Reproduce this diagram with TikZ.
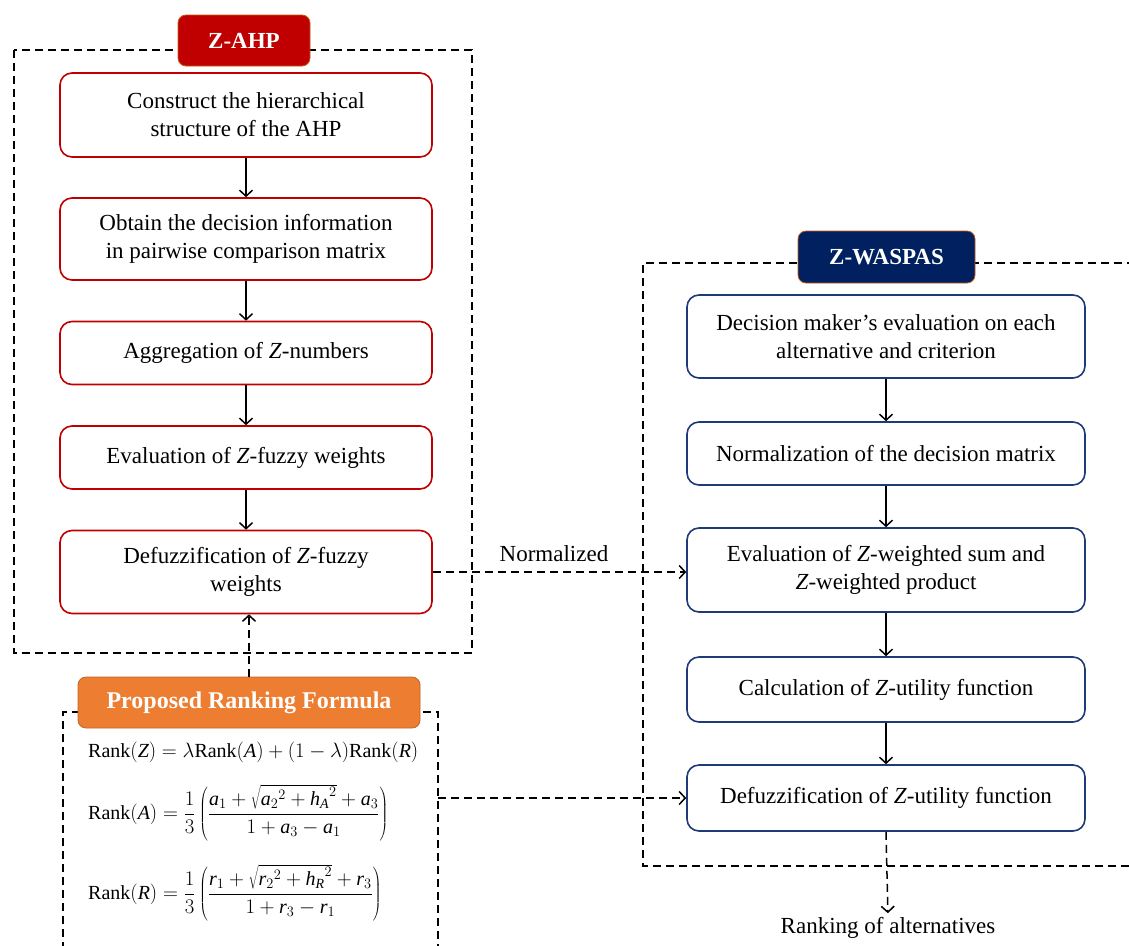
\documentclass[tikz,border=0pt]{standalone}
\usepackage{fontspec}
\setmainfont{Liberation Serif}
\usetikzlibrary{arrows.meta,calc}
\definecolor{zred}{HTML}{C00000}
\definecolor{znavy}{HTML}{002060}
\definecolor{zblue}{HTML}{1F3A78}
\definecolor{zorange}{HTML}{ED7D31}
\definecolor{zbrown}{HTML}{C55A11}
\newcommand{\mv}[1]{\mathit{#1}}
\begin{document}
\begin{tikzpicture}[x=1pt,y=-1pt,
  font=\fontsize{23}{28}\selectfont,
  redbox/.style={draw=zred, line width=1.6pt, rounded corners=12pt, fill=white, minimum width=372pt, align=center, inner sep=0pt},
  bluebox/.style={draw=zblue, line width=1.6pt, rounded corners=12pt, fill=white, minimum width=398pt, align=center, inner sep=0pt},
  tag/.style={rounded corners=8pt, font=\fontsize{23}{26}\selectfont\bfseries, text=white, inner sep=0pt, line width=0.8pt},
  frame/.style={dash pattern=on 8pt off 5pt, line width=1.6pt},
  flow/.style={line width=1.5pt, -{Straight Barb[length=6pt,width=13pt]}},
  dflow/.style={flow, dash pattern=on 8pt off 5pt},
  fml/.style={anchor=west, inner sep=0pt, font=\fontsize{20}{24}\selectfont},
]
\useasboundingbox (0,0) rectangle (1129,945);

% dashed frames
\draw[frame] (14,50) rectangle (472,653);
\draw[frame] (1135,263) -- (643,263) -- (643,866) -- (1135,866);
\draw[frame] (63,950) -- (63,712) -- (438,712) -- (438,950);

% Z-AHP column
\node[tag, fill=zred, draw=zbrown, minimum width=132pt, minimum height=51pt] (ahp) at (244,40.5) {Z-AHP};
\node[redbox, minimum height=84pt] (a1) at (246,115) {Construct the hierarchical\\structure of the AHP};
\node[redbox, minimum height=82pt] (a2) at (246,239) {Obtain the decision information\\in pairwise comparison matrix};
\node[redbox, minimum height=63pt] (a3) at (246,353) {Aggregation of \textit{Z}-numbers};
\node[redbox, minimum height=63pt] (a4) at (246,457.5) {Evaluation of \textit{Z}-fuzzy weights};
\node[redbox, minimum height=83pt] (a5) at (246,572) {Defuzzification of \textit{Z}-fuzzy\\weights};

\draw[flow] (a1) -- (a2);
\draw[flow] (a2) -- (a3);
\draw[flow] (a3) -- (a4);
\draw[flow] (a4) -- (a5);

% Z-WASPAS column
\node[tag, fill=znavy, draw=zbrown, minimum width=177pt, minimum height=52pt] (was) at (886.5,257) {Z-WASPAS};
\node[bluebox, minimum height=83pt] (w1) at (886,336.5) {Decision maker’s evaluation on each\\alternative and criterion};
\node[bluebox, minimum height=63pt] (w2) at (886,453.5) {Normalization of the decision matrix};
\node[bluebox, minimum height=84pt] (w3) at (886,570) {Evaluation of \textit{Z}-weighted sum and\\\textit{Z}-weighted product};
\node[bluebox, minimum height=65pt] (w4) at (886,689.5) {Calculation of \textit{Z}-utility function};
\node[bluebox, minimum height=66pt] (w5) at (886,798) {Defuzzification of \textit{Z}-utility function};

\draw[flow] (w1) -- (w2);
\draw[flow] (w2) -- (w3);
\draw[flow] (w3) -- (w4);
\draw[flow] (w4) -- (w5);

\node[inner sep=0pt] (rank) at (888,928) {Ranking of alternatives};
\draw[dflow, shorten >=4pt] (w5.south) -- (rank.north);

% proposed ranking formula
\node[tag, fill=zorange, draw=zorange!80!black, minimum width=342pt, minimum height=51pt, font=\fontsize{24}{26}\selectfont\bfseries] (prf) at (249,702.5) {Proposed Ranking Formula};
\node[fml] (f1) at (88,752) {$\mathrm{Rank}(\mv{Z})=\lambda\mathrm{Rank}(\mv{A})+(1-\lambda)\mathrm{Rank}(\mv{R})$};
\node[fml] (f2) at (88,813) {$\displaystyle\mathrm{Rank}(\mv{A})=\frac{1}{3}\left(\frac{\mv{a}_1+\sqrt{{\mv{a}_2}^2+{\mv{h}_{\mv{A}}}^2}+\mv{a}_3}{1+\mv{a}_3-\mv{a}_1}\right)$};
\node[fml] (f3) at (88,893) {$\displaystyle\mathrm{Rank}(\mv{R})=\frac{1}{3}\left(\frac{\mv{r}_1+\sqrt{{\mv{r}_2}^2+{\mv{h}_{\mv{R}}}^2}+\mv{r}_3}{1+\mv{r}_3-\mv{r}_1}\right)$};
\coordinate (fr) at (438,798);

% connectors between blocks
\draw[dflow] (prf.north) -- (prf.north |- a5.south);
\draw[dflow] (a5.east) -- (a5.east -| w3.west);
\node[anchor=south, inner sep=0pt] (norm) at (554,562) {Normalized};
\draw[dflow] (fr) -- (w5.west);
\end{tikzpicture}
\end{document}
